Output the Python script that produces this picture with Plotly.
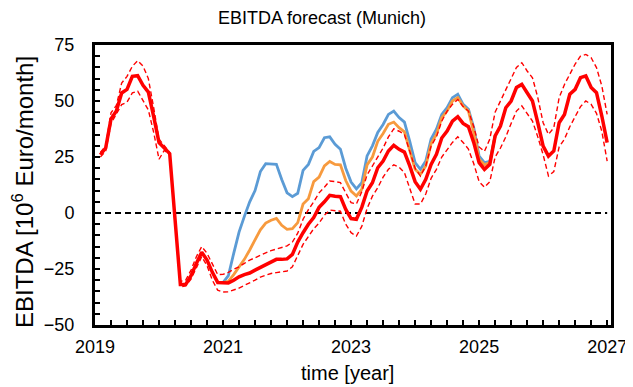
import plotly.graph_objects as go

# monthly time axis: Jan 2019 .. Dec 2026 plotted as fractional years (month-end)
month_index = list(range(1, 97))
time_year = [2019 + m / 12 for m in month_index]

ebitda_main = [
    26, 29, 42, 45.5, 53.6, 55.2, 61, 61.3, 57, 54, 43, 31.4,
    29, 26.5, -2.7, -31.9, -31.9, -28, -22.5, -17.5, -21, -26.5, -31, -31.1,
    -31.2, -30, -28.5, -27.5, -26.8, -25.5, -24.3, -23, -21.8, -20.7, -20.7, -20.5,
    -18.5, -13, -8.8, -5, -2, 2.5, 5, 7.9, 7.5, 7.3, 1.6, -2.5,
    -2.8, 2.5, 9.8, 13.5, 20.2, 23.2, 27.7, 30.2, 28.4, 27.2, 21, 14,
    10.6, 15, 21.7, 26.2, 33.5, 36.6, 41, 43, 40, 38.5, 31.4, 22.5,
    19.5, 21.7, 34.4, 38.8, 47, 50, 56, 57.4, 53.7, 50, 40.3, 29.9,
    25.4, 27.7, 40.3, 44, 53, 55.2, 60.4, 61.2, 56, 53.7, 43.3, 31.4,
]

ebitda_upper = [
    27, 30, 44.7, 48, 58, 61, 65.5, 68, 65.6, 60, 47, 33,
    30, 27, -2, -30.5, -30, -25.5, -19.5, -15, -18, -23, -27.5, -27.4,
    -26.5, -25.1, -24, -22.5, -21, -20, -18.8, -17.8, -16.8, -16.2, -15.5, -14.7,
    -13, -9, -2.8, 1.5, 5, 9, 11.5, 14.3, 14, 13.6, 9, 4.6,
    4, 9.5, 17, 21, 25, 29, 34, 37.6, 36.5, 35, 27.5, 20,
    16.5, 21, 29.9, 34, 41, 45.5, 48.5, 50.7, 47.5, 45.5, 38.5, 29.5,
    27.5, 33, 45, 50, 55, 60.4, 65, 67.1, 63.4, 60.4, 51.5, 40.3,
    35.1, 38.1, 51.5, 57.4, 62, 66.5, 70, 70.8, 69.3, 64.9, 56.7, 44,
]

ebitda_lower = [
    25, 27.5, 40, 44, 48.4, 49.5, 53.6, 54.4, 50.5, 46, 36, 24,
    28, 26, -3.4, -33, -32.5, -29.5, -24.5, -19.5, -23.5, -30, -34.5, -35.3,
    -35.2, -34.5, -33.5, -32.3, -31.3, -30, -28.6, -27.8, -27, -26.6, -26.2, -25.9,
    -24, -19, -14, -10.5, -7, -4.5, -1, 1.3, 1.2, 0.8, -5, -8.8,
    -10.3, -6, 2, 7.5, 11.3, 16, 19.5, 21.5, 20.5, 18, 11, 4,
    4, 8.5, 15.5, 19.5, 25, 28.5, 31.5, 34, 31.5, 28.5, 22, 14,
    11.5, 14, 25, 29, 34, 40, 45.5, 47.8, 44.5, 41, 34, 26,
    16.5, 18.5, 29.5, 33, 38.5, 43, 47.5, 50, 48.5, 44.5, 36.5, 23.2,
]

# scenario series (Dec 2020 .. Mar 2025)
scenario_start = 24
ebitda_blue = [
    -31.1, -28, -18, -8.5, -1.5, 5, 10, 18.5, 22, 21.7, 21.7, 15,
    9, 7.3, 8.8, 19, 21.7, 27.5, 29.2, 33.6, 34, 30.7, 28.5, 20,
    13.8, 10.8, 13.5, 25.5, 30, 36, 39.5, 44, 45.5, 42.6, 40.6, 32,
    22.5, 19.5, 23.2, 33, 37.4, 44, 47, 51.5, 53, 48.5, 46.3, 38,
    25.4, 22.5, 23, 34.4,
]
ebitda_orange = [
    -31.1, -30.5, -27.5, -24, -20.7, -16.5, -12, -7.5, -4.5, -3.2, -2.4, -5.5,
    -7.3, -7, -4.3, 4, 6.4, 14, 16, 21, 23, 21.7, 21.5, 14.5,
    9.8, 7.6, 10.6, 21.5, 25, 32, 35.5, 39.6, 40.6, 38.1, 36.2, 27.5,
    19.5, 17.3, 21, 31, 35.1, 42.6, 45.5, 50, 51.5, 47.8, 45.5, 36,
    24, 21.5, 22.5, 34.4,
]
scen_x = time_year[scenario_start - 1: scenario_start - 1 + len(ebitda_blue)]

x_range = [2019, 2027.06]
y_range = [-50, 75]
x_ticks = [2019, 2021, 2023, 2025, 2027]
y_ticks = [-50, -25, 0, 25, 50, 75]

fig = go.Figure()

fig.add_trace(go.Scatter(x=[2019, 2027], y=[0, 0], mode="lines",
                         line=dict(color="black", width=2, dash="6px,4px"),
                         hoverinfo="skip", showlegend=False))
fig.add_trace(go.Scatter(x=scen_x, y=ebitda_blue, mode="lines",
                         line=dict(color="#5B9BD5", width=2.8), showlegend=False))
fig.add_trace(go.Scatter(x=scen_x, y=ebitda_orange, mode="lines",
                         line=dict(color="#F79A3E", width=2.8), showlegend=False))
fig.add_trace(go.Scatter(x=time_year, y=ebitda_upper, mode="lines",
                         line=dict(color="#FF0000", width=1.4, dash="5px,3px"), showlegend=False))
fig.add_trace(go.Scatter(x=time_year, y=ebitda_lower, mode="lines",
                         line=dict(color="#FF0000", width=1.4, dash="5px,3px"), showlegend=False))
fig.add_trace(go.Scatter(x=time_year, y=ebitda_main, mode="lines",
                         line=dict(color="#FF0000", width=3.5), showlegend=False))

font_family = "Liberation Sans, Arial, sans-serif"

# the page body has an 8px margin; plot area on the page: x 95..611, y 45..325
page_off = 8
fig_w, fig_h = 633 - page_off, 387 - page_off
plot_w, plot_h = 516, 280

fig.update_layout(
    width=fig_w, height=fig_h,
    margin=dict(l=95 - page_off, r=22, t=45 - page_off, b=fig_h - (325 - page_off), autoexpand=False),
    paper_bgcolor="white", plot_bgcolor="white",
    font=dict(family=font_family, color="black", size=18),
    title=dict(text="EBITDA forecast (Munich)", x=(322 - page_off) / fig_w, xref="container",
               y=1 - (18 - page_off) / fig_h, yref="container", xanchor="center", yanchor="middle",
               font=dict(size=18, color="black")),
    annotations=[
        dict(text="time [year]", xref="paper", yref="paper",
             x=(347 - 95) / plot_w, y=(325 - 373) / plot_h, xanchor="center", yanchor="middle",
             showarrow=False, font=dict(size=20, color="black")),
        dict(text="EBITDA [10<sup>6</sup> Euro/month]", xref="paper", yref="paper",
             x=(23 - 95) / plot_w, y=(325 - 192) / plot_h, xanchor="center", yanchor="middle",
             textangle=-90, showarrow=False, font=dict(size=24, color="black")),
    ],
)

fig.update_xaxes(
    range=x_range, tickmode="array", tickvals=x_ticks, automargin=False,
    ticks="inside", ticklen=5, tickwidth=1.5, tickcolor="black",
    minor=dict(dtick=0.25, tick0=2019, ticks="inside", ticklen=5, tickwidth=1.5, tickcolor="black"),
    showline=True, linewidth=3, linecolor="black", mirror=True,
    showgrid=False, zeroline=False, ticklabelstandoff=3,
    tickfont=dict(size=18),
)
fig.update_yaxes(
    range=y_range, tickmode="array", tickvals=y_ticks, automargin=False,
    ticks="inside", ticklen=5, tickwidth=1.5, tickcolor="black",
    minor=dict(dtick=5, tick0=0, ticks="inside", ticklen=5, tickwidth=1.5, tickcolor="black"),
    showline=True, linewidth=3, linecolor="black", mirror=True,
    showgrid=False, zeroline=False, ticklabelstandoff=14,
    tickfont=dict(size=18),
)

fig.write_html("out.html")
